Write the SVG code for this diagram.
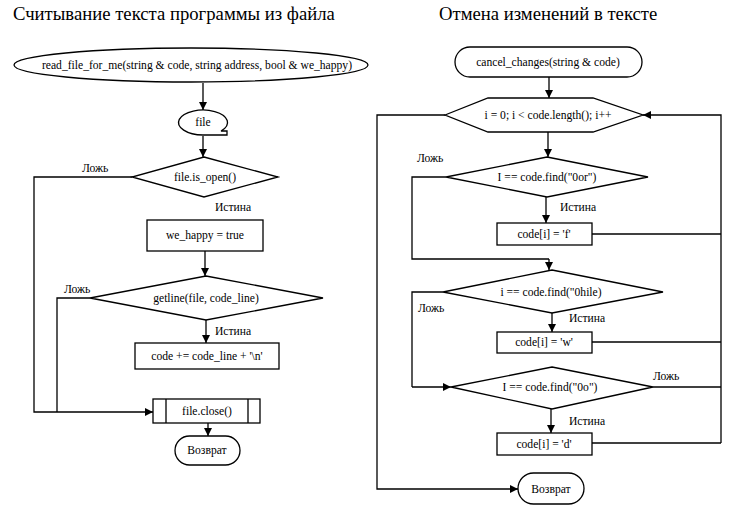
<svg xmlns="http://www.w3.org/2000/svg" width="737" height="514" viewBox="0 0 737 514" font-family="'Liberation Serif', 'Times New Roman', serif">
<defs>
<marker id="ar" viewBox="0 0 10 10" refX="10" refY="5" markerWidth="8" markerHeight="8" markerUnits="userSpaceOnUse" orient="auto">
<path d="M0,0 L10,5 L0,10 Z" fill="#000"/>
</marker>
<style>
.s{fill:#fff;stroke:#000;stroke-width:1.3}
.c{fill:none;stroke:#000;stroke-width:1.3}
.a{marker-end:url(#ar)}
text{fill:#000}
.t{font-size:11.6px;text-anchor:middle;dominant-baseline:central}
.l{font-size:11.6px}
.h{font-size:18.7px}
</style>
</defs>
<rect width="737" height="514" fill="#fff"/>
<text class="h" x="13" y="20">Считывание текста программы из файла</text>
<text class="h" x="439" y="20">Отмена изменений в тексте</text>

<g id="connectors">
<path class="c a" d="M203,83 V110"/>
<path class="c a" d="M203,136 V157"/>
<path class="c a" d="M132,177 H34 V412 H153"/>
<path class="c a" d="M205,251 V276"/>
<path class="c" d="M90,298 H57 V412"/>
<path class="c a" d="M206,320 V343"/>
<path class="c a" d="M208,423 V436"/>

<path class="c a" d="M549,77 V98"/>
<path class="c a" d="M445,115 H377 V489 H518"/>
<path class="c a" d="M721,443 V115 H643"/>
<path class="c a" d="M548,132 V157"/>
<path class="c" d="M446,177 H412 V259 H549"/>
<path class="c a" d="M549,259 V270"/>
<path class="c a" d="M546,197 V223"/>
<path class="c" d="M592,234 H721"/>
<path class="c" d="M443,292 H412 V387"/>
<path class="c a" d="M412,387 H451"/>
<path class="c a" d="M552,313 V332"/>
<path class="c" d="M592,342 H721"/>
<path class="c" d="M653,387 H721"/>
<path class="c a" d="M551,409 V433"/>
<path class="c" d="M592,443 H721"/>
</g>

<g id="start1">
<ellipse class="s" cx="191" cy="65" rx="177" ry="17"/>
<text class="t" x="197" y="65">read_file_for_me(string &amp; code, string address, bool &amp; we_happy)</text>
</g>
<g id="file">
<path class="s" d="M203,135 A24.5,12.5 0 1 1 221,131 L227,131 L227,135 Z"/>
<text class="t" x="203" y="122">file</text>
</g>
<g id="isopen">
<polygon class="s" points="204,157 278,177 204,197 132,177"/>
<text class="t" x="205" y="177">file.is_open()</text>
<text class="l" x="82" y="172">Ложь</text>
<text class="l" x="215" y="211">Истина</text>
</g>
<g id="wehappy">
<rect class="s" x="147" y="220" width="116" height="31"/>
<text class="t" x="205" y="235">we_happy = true</text>
</g>
<g id="getline">
<polygon class="s" points="206,276 323,298 206,320 90,298"/>
<text class="t" x="206" y="298">getline(file, code_line)</text>
<text class="l" x="64" y="293">Ложь</text>
<text class="l" x="215" y="335">Истина</text>
</g>
<g id="codeadd">
<rect class="s" x="135" y="343" width="144" height="26"/>
<text class="t" x="207" y="356">code += code_line + '\n'</text>
</g>
<g id="close">
<rect class="s" x="153" y="399" width="107" height="24"/>
<path class="c" d="M166,399 V423 M248,399 V423"/>
<text class="t" x="207" y="411">file.close()</text>
</g>
<g id="ret1">
<rect class="s" x="175" y="436" width="65" height="29" rx="14.5"/>
<text class="t" x="207" y="450">Возврат</text>
</g>

<g id="start2">
<rect class="s" x="455" y="47" width="187" height="30" rx="15"/>
<text class="t" x="548" y="62">cancel_changes(string &amp; code)</text>
</g>
<g id="loop">
<polygon class="s" points="445,115 488,98 593,98 643,115 593,132 488,132"/>
<text class="t" x="548" y="115">i = 0; i &lt; code.length(); i++</text>
</g>
<g id="cond1">
<polygon class="s" points="547,157 648,177 547,197 446,177"/>
<text class="t" x="547" y="177">I == code.find("0or")</text>
<text class="l" x="417" y="162">Ложь</text>
<text class="l" x="560" y="211">Истина</text>
</g>
<g id="setf">
<rect class="s" x="497" y="223" width="95" height="22"/>
<text class="t" x="544" y="234">code[i] = 'f'</text>
</g>
<g id="cond2">
<polygon class="s" points="552,270 663,292 552,313 443,292"/>
<text class="t" x="551" y="292">i == code.find("0hile)</text>
<text class="l" x="418" y="312">Ложь</text>
<text class="l" x="569" y="322">Истина</text>
</g>
<g id="setw">
<rect class="s" x="497" y="332" width="95" height="21"/>
<text class="t" x="544" y="342">code[i] = 'w'</text>
</g>
<g id="cond3">
<polygon class="s" points="552,367 653,387 552,409 451,387"/>
<text class="t" x="550" y="387">I == code.find("0o")</text>
<text class="l" x="653" y="380">Ложь</text>
<text class="l" x="569" y="425">Истина</text>
</g>
<g id="setd">
<rect class="s" x="497" y="433" width="95" height="22"/>
<text class="t" x="544" y="444">code[i] = 'd'</text>
</g>
<g id="ret2">
<rect class="s" x="518" y="473" width="66" height="31" rx="15.5"/>
<text class="t" x="551" y="489">Возврат</text>
</g>
</svg>
